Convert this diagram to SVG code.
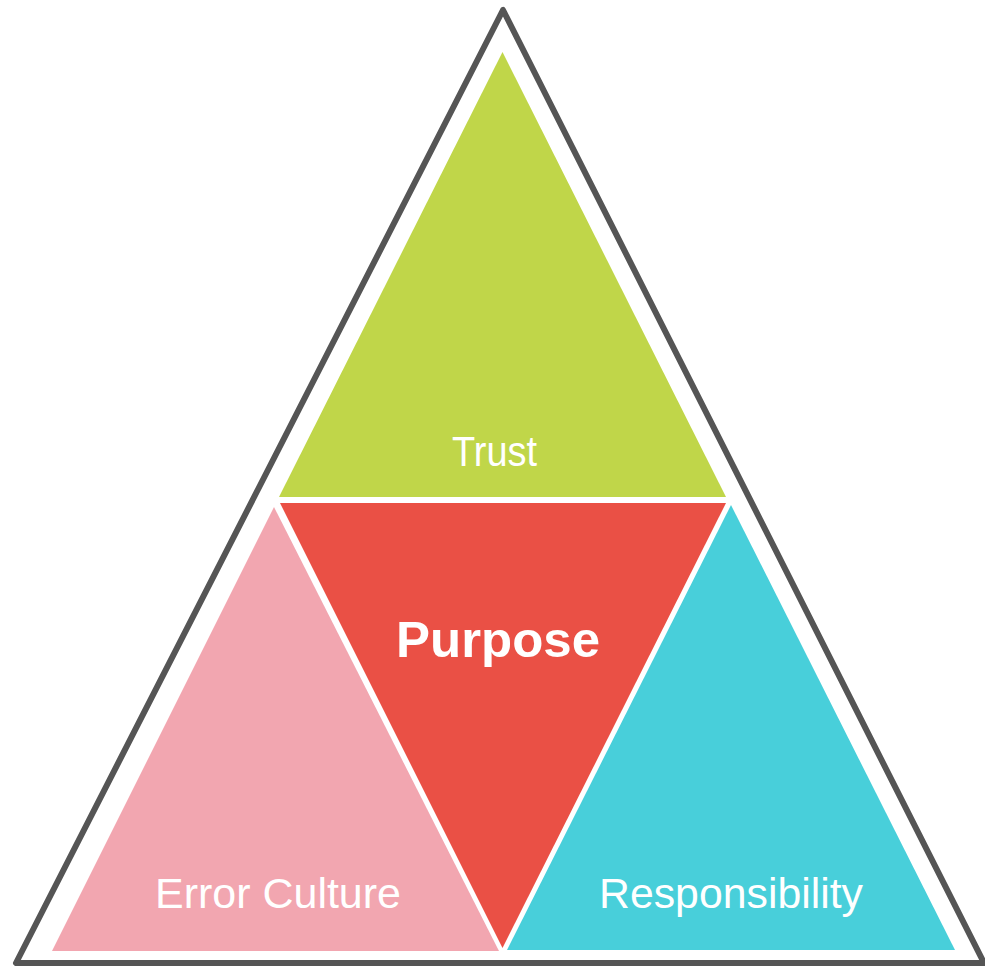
<svg xmlns="http://www.w3.org/2000/svg" width="985" height="966" viewBox="0 0 985 966">
  <style>
    .lbl { font-family: "Liberation Sans", "Noto Sans", Arial, sans-serif; fill: #ffffff; text-anchor: middle; }
    .reg { font-size: 42px; font-weight: normal; }
    .bold { font-size: 50px; font-weight: bold; }
  </style>
  <rect x="0" y="0" width="985" height="966" fill="#ffffff"/>
  <g id="outer">
    <polygon points="503,10 16,963 984,963" fill="none" stroke="#555555" stroke-width="6" stroke-linejoin="round"/>
  </g>
  <g id="trust">
    <polygon points="502.5,52 279,497 726,497" fill="#C0D649"/>
    <text class="lbl reg" x="494.5" y="466" textLength="85" lengthAdjust="spacingAndGlyphs">Trust</text>
  </g>
  <g id="purpose">
    <polygon points="280,503 726,503 502.5,948" fill="#EA5045"/>
    <text class="lbl bold" x="498" y="657" textLength="204" lengthAdjust="spacingAndGlyphs">Purpose</text>
  </g>
  <g id="error-culture">
    <polygon points="274,507 52,951 499,951" fill="#F2A6B0"/>
    <text class="lbl reg" x="278" y="908" textLength="246" lengthAdjust="spacingAndGlyphs">Error Culture</text>
  </g>
  <g id="responsibility">
    <polygon points="731,505 507,950 955,950" fill="#48CFDA"/>
    <text class="lbl reg" x="731" y="908" textLength="264" lengthAdjust="spacingAndGlyphs">Responsibility</text>
  </g>
  <g id="connectors"></g>
</svg>
